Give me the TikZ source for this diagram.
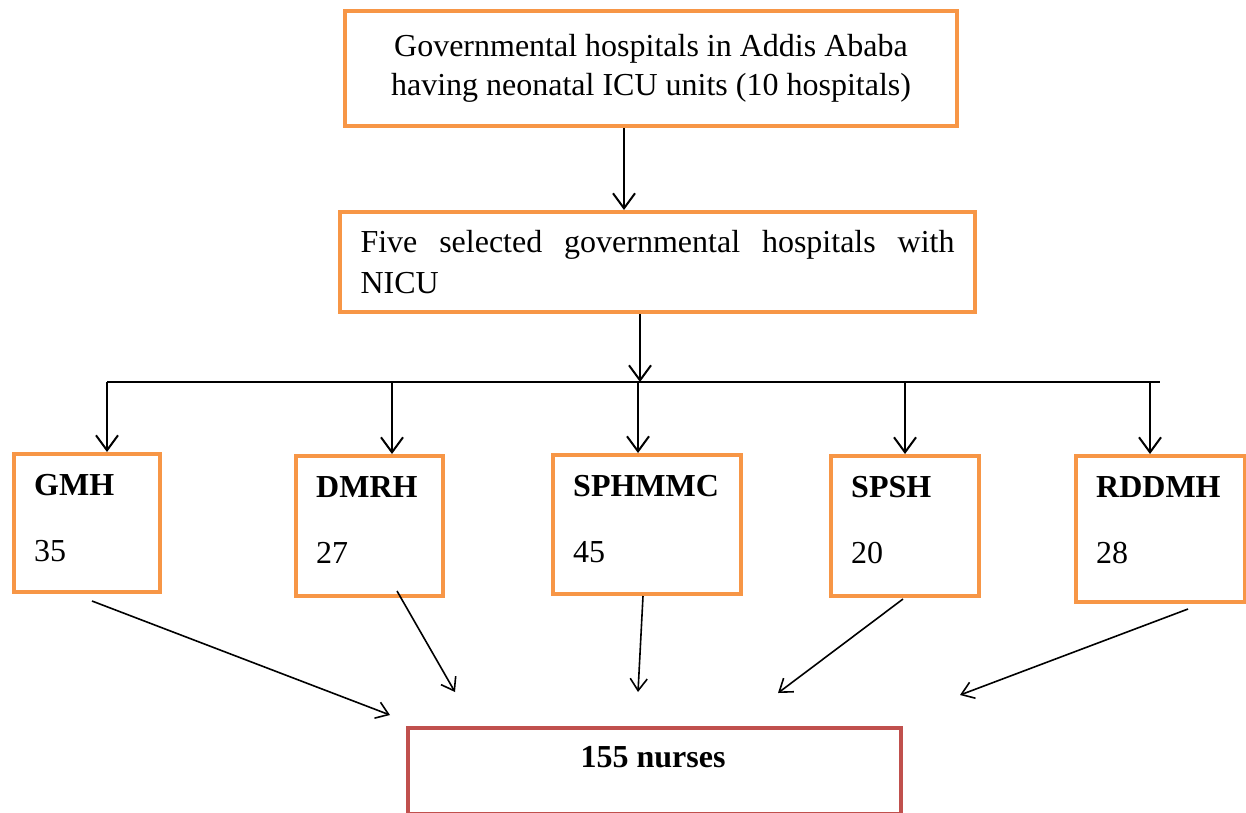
\documentclass[tikz,border=0pt]{standalone}
\usepackage{fontspec}
\setmainfont{Liberation Serif}
\usetikzlibrary{arrows.meta,calc}
\definecolor{boxorange}{HTML}{F79646}
\definecolor{boxred}{HTML}{C0504D}
\tikzset{
  obox/.style={draw=boxorange, line width=4pt, rectangle, inner sep=0pt},
  rbox/.style={draw=boxred, line width=4pt, rectangle, inner sep=0pt},
  txt/.style={font=\fontsize{32}{40}\selectfont, inner sep=0pt},
  arr/.style={line width=2pt, -{Straight Barb[length=15pt,width=22pt]}},
  darr/.style={line width=1.6pt, -{Straight Barb[length=12pt,width=17pt]}},
  plain/.style={line width=2pt},
}
\begin{document}
\begin{tikzpicture}[x=1pt,y=-1pt]
\useasboundingbox (0,0) rectangle (1246,812);
\fill[white] (0,0) rectangle (1246,812);
% top box
\node[obox, minimum width=612pt, minimum height=115pt, align=center, font=\fontsize{32}{39}\selectfont] (top) at (651,68.5)
  {Governmental hospitals in Addis Ababa\\having neonatal ICU units (10 hospitals)};
% selected box
\node[obox, text width=594pt, inner xsep=20.5pt, minimum height=100pt, align=left, font=\fontsize{32}{41}\selectfont] (sel) at (657.5,262)
  {Five\hfill selected\hfill governmental\hfill hospitals\hfill with\\NICU};
% hospital boxes
\node[obox, minimum width=146pt, minimum height=138pt, anchor=north west] (b1) at (12,452) {};
\node[obox, minimum width=147pt, minimum height=140pt, anchor=north west] (b2) at (294,454) {};
\node[obox, minimum width=188pt, minimum height=139pt, anchor=north west] (b3) at (551,453) {};
\node[obox, minimum width=148pt, minimum height=140pt, anchor=north west] (b4) at (829,454) {};
\node[obox, minimum width=169pt, minimum height=146pt, anchor=north west] (b5) at (1074,454) {};
\foreach \b/\l/\n in {b1/GMH/35, b2/DMRH/27, b3/SPHMMC/45, b4/SPSH/20, b5/RDDMH/28}{
  \node[txt, anchor=west] (\b l) at ($(\b.north west)+(22,33)$) {\textbf{\l}};
  \node[txt, anchor=west] (\b n) at ($(\b.north west)+(22,99)$) {\n};
}
% nurses box
\node[rbox, minimum width=493pt, minimum height=86pt, anchor=north west] (nur) at (406,726) {};
\node[txt] (nurt) at (653,757) {\textbf{155 nurses}};
% connectors
\coordinate (ta) at (624,0);
\draw[arr] (top.south -| ta) -- (sel.north -| ta);
\coordinate (barL) at (107,382);
\coordinate (barR) at (1160,382);
\coordinate (barS) at (640,382);
\draw[arr] (sel.south -| barS) -- (barS);
\draw[plain] (barL) -- (barR);
\coordinate (d2) at (392,382);
\coordinate (d3) at (638,382);
\coordinate (d4) at (905,382);
\coordinate (d5) at (1150,382);
\draw[arr] (barL) -- (barL |- b1.north);
\draw[arr] (d2) -- (d2 |- b2.north);
\draw[arr] (d3) -- (d3 |- b3.north);
\draw[arr] (d4) -- (d4 |- b4.north);
\draw[arr] (d5) -- (d5 |- b5.north);
% diagonal arrows
\coordinate (s1) at (92,601);   \coordinate (e1) at (390,715);
\coordinate (s2) at (397,591);  \coordinate (e2) at (455,692);
\coordinate (s3) at (643,596);  \coordinate (e3) at (638,692);
\coordinate (s4) at (903,599);  \coordinate (e4) at (778,693);
\coordinate (s5) at (1188,609); \coordinate (e5) at (960,695);
\draw[darr] (s1) -- (e1);
\draw[darr] (s2) -- (e2);
\draw[darr] (s3) -- (e3);
\draw[darr] (s4) -- (e4);
\draw[darr] (s5) -- (e5);
\end{tikzpicture}
\end{document}
